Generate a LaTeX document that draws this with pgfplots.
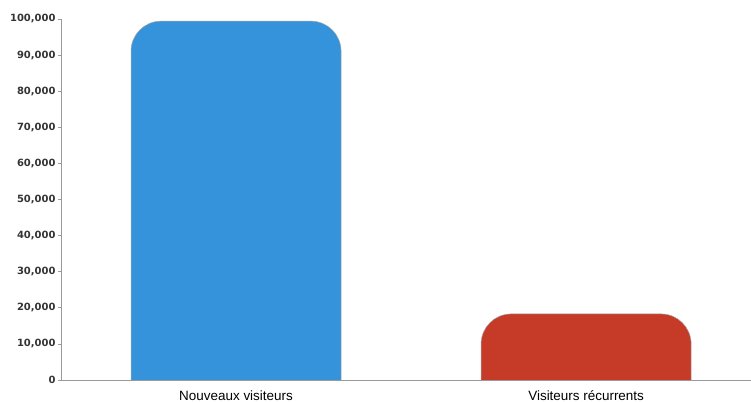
\documentclass[border=0pt]{standalone}
\usepackage{fontspec}
\setmainfont{Liberation Sans}
\newfontfamily\dv{DejaVu Sans}
\usepackage{pgfplots}
\pgfplotsset{compat=1.18}
\definecolor{cblue}{HTML}{3593DB}
\definecolor{cred}{HTML}{C63A28}
\definecolor{axgray}{HTML}{9A9A9A}
\begin{document}
\begin{tikzpicture}
\begin{axis}[
  width=690bp, height=361bp, scale only axis,
  xmin=-0.5, xmax=1.471, ymin=0, ymax=100000,
  axis x line*=bottom, axis y line*=left,
  axis line style={-, draw=axgray, line width=0.8pt},
  xtick={0,1}, xticklabels={Nouveaux visiteurs, Visiteurs récurrents},
  x tick style={draw=none},
  x tick label style={font=\fontsize{13.5}{14}\selectfont, yshift=-4bp},
  ytick={0,10000,20000,30000,40000,50000,60000,70000,80000,90000,100000},
  yticklabels={0,{10,000},{20,000},{30,000},{40,000},{50,000},{60,000},{70,000},{80,000},{90,000},{100,000}},
  scaled y ticks=false,
  y tick style={draw=axgray, line width=0.6pt},
  tick align=outside, major tick length=3bp,
  y tick label style={font=\dv\bfseries\fontsize{10}{11}\selectfont, text=black!80, xshift=1bp},
  clip=true,
]
\addplot[fill=cblue, draw=black!35, line width=0.5pt, rounded corners=30bp]
  coordinates {(-0.3,-15000) (-0.3,99400) (0.3,99400) (0.3,-15000)};
\addplot[fill=cred, draw=black!35, line width=0.5pt, rounded corners=30bp]
  coordinates {(0.7,-15000) (0.7,18300) (1.3,18300) (1.3,-15000)};
\end{axis}
\pgfresetboundingbox
\path ([xshift=-61bp,yshift=-22bp]current axis.south west) rectangle ([yshift=19bp]current axis.north east);
\end{tikzpicture}
\end{document}
